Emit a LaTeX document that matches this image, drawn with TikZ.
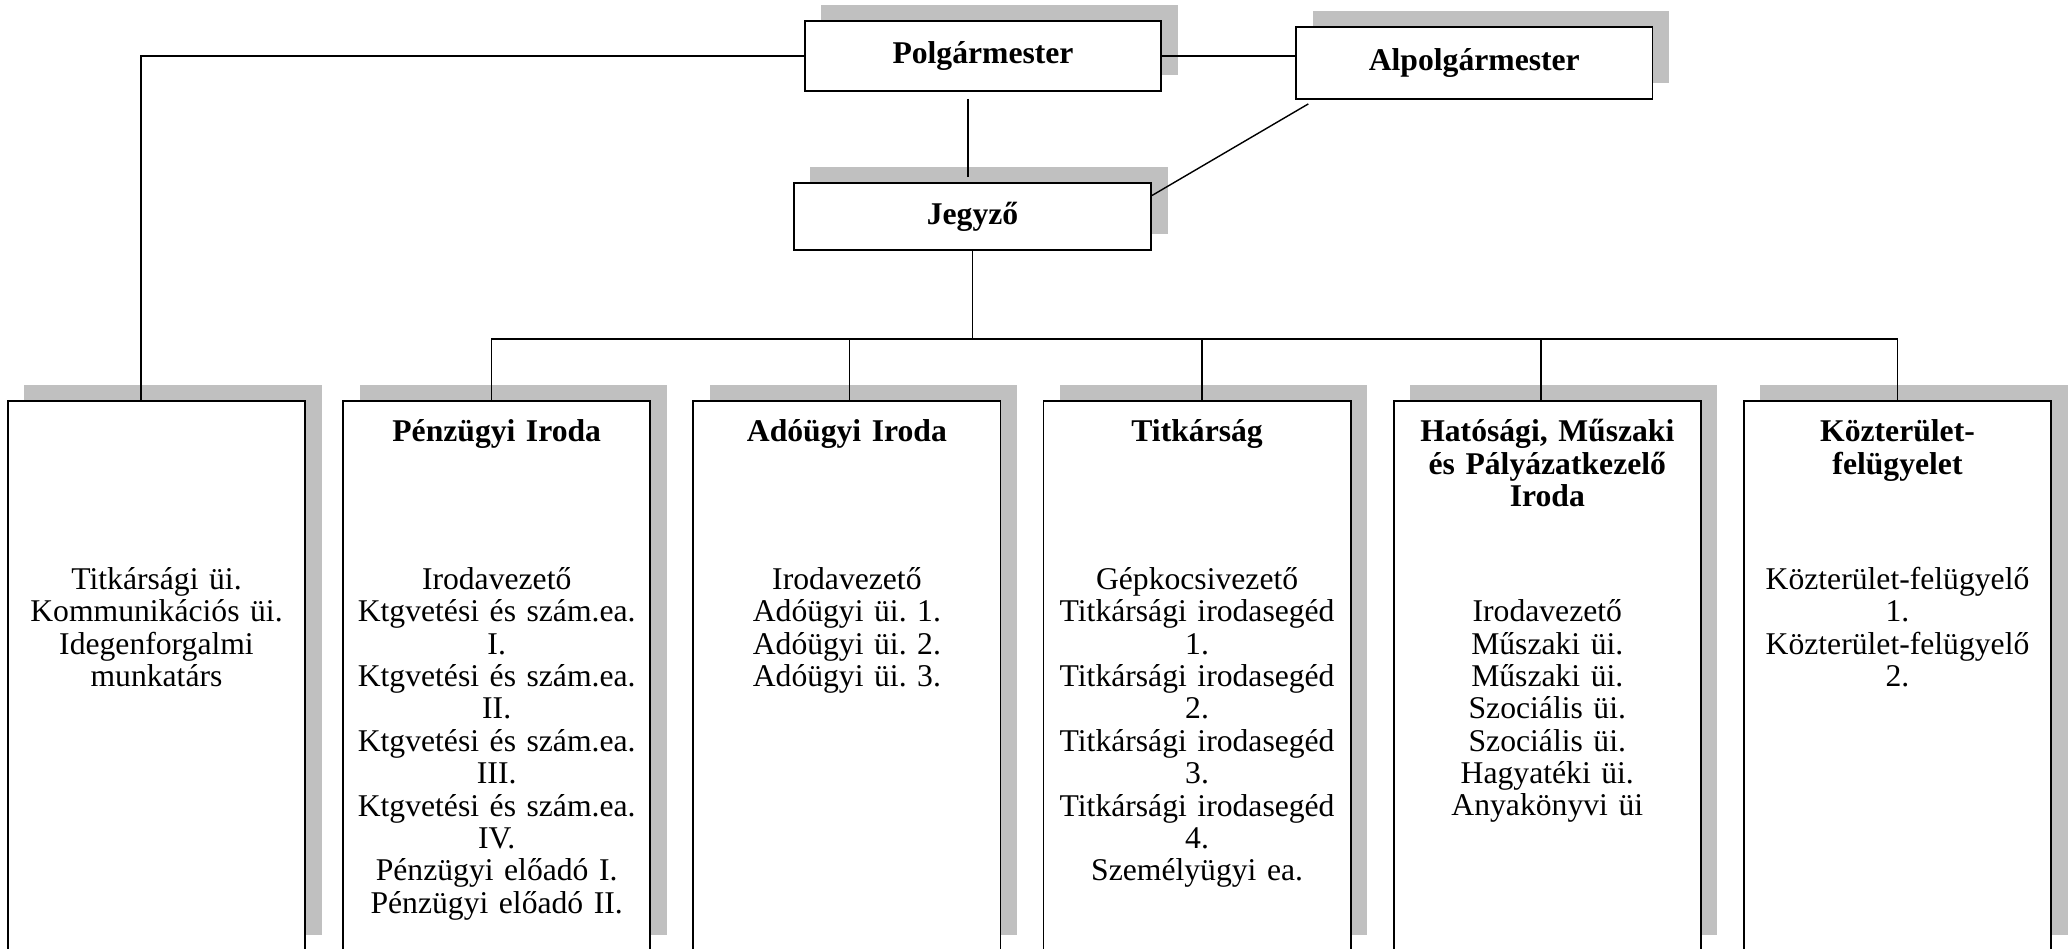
\documentclass[tikz,border=0pt]{standalone}
\usepackage{fontspec}
\setmainfont{Liberation Serif}
\usetikzlibrary{shapes,shadows}
\definecolor{shadowgray}{HTML}{C0C0C0}
\frenchspacing

\begin{document}
\begin{tikzpicture}[x=0.01cm, y=-0.01cm, node distance=3.5cm]
	%define block styles
	\tikzset{
		boxshadow/.style={general shadow={fill=shadowgray, shadow xshift=0.165cm, shadow yshift=0.16cm}},
		leader/.style={rectangle, minimum width=3.56cm, minimum height=0.7cm, draw=black, line width=0.5pt, fill=white, boxshadow, font=\fontsize{9pt}{9.2pt}\selectfont\bfseries},
		office/.style={rectangle, minimum width=3.07cm, minimum height=5.5cm, draw=black, line width=0.5pt, fill=white, boxshadow},
		heading/.style={anchor=base, text width=3cm, align=center, font=\fontsize{9pt}{9.2pt}\selectfont\bfseries},
		staff/.style={anchor=base, text width=3cm, align=center, font=\fontsize{9pt}{9.2pt}\selectfont},
		link/.style={line width=0.4pt},
	}
	\useasboundingbox (0,0) rectangle (2069,948);

	%define nodes
	\node[leader] (pm) at (983,56) {Polgármester};
	\node[leader, right of=pm, xshift=1.41cm, yshift=-0.07cm, minimum height=0.72cm] (alp) {Alpolgármester};
	\node[leader, minimum width=3.57cm, minimum height=0.67cm] (jegyzo) at (972.5,216.5) {Jegyző};

	\node[office, minimum width=2.97cm] (kabinet) at (156.5,676) {};
	\node[office, right of=kabinet, xshift=-0.1cm] (penz) {};
	\node[office, right of=penz] (ado) {};
	\node[office, right of=ado] (titk) {};
	\node[office, right of=titk] (hatosag) {};
	\node[office, right of=hatosag] (kozter) {};

	%define texts
	\node[staff] (kabinettext) at ([yshift=-1.895cm]kabinet.north) {Titkársági üi.\\Kommunikációs üi.\\Idegenforgalmi\\munkatárs};
	\node[heading] (penzhead) at ([yshift=-0.42cm]penz.north) {Pénzügyi Iroda};
	\node[staff] (penztext) at ([yshift=-1.895cm]penz.north) {Irodavezető\\Ktgvetési és szám.ea.\\I.\\Ktgvetési és szám.ea.\\II.\\Ktgvetési és szám.ea.\\III.\\Ktgvetési és szám.ea.\\IV.\\Pénzügyi előadó I.\\Pénzügyi előadó II.};
	\node[heading] (adohead) at ([yshift=-0.42cm]ado.north) {Adóügyi Iroda};
	\node[staff] (adotext) at ([yshift=-1.895cm]ado.north) {Irodavezető\\Adóügyi üi. 1.\\Adóügyi üi. 2.\\Adóügyi üi. 3.};
	\node[heading] (titkhead) at ([yshift=-0.42cm]titk.north) {Titkárság};
	\node[staff] (titktext) at ([yshift=-1.895cm]titk.north) {Gépkocsivezető\\Titkársági irodasegéd\\1.\\Titkársági irodasegéd\\2.\\Titkársági irodasegéd\\3.\\Titkársági irodasegéd\\4.\\Személyügyi ea.};
	\node[heading] (hatosaghead) at ([yshift=-0.42cm]hatosag.north) {Hatósági, Műszaki\\és Pályázatkezelő\\Iroda};
	\node[staff] (hatosagtext) at ([yshift=-2.217cm]hatosag.north) {Irodavezető\\Műszaki üi.\\Műszaki üi.\\Szociális üi.\\Szociális üi.\\Hagyatéki üi.\\Anyakönyvi üi};
	\node[heading] (kozterhead) at ([yshift=-0.42cm]kozter.north) {Közterület-\\felügyelet};
	\node[staff] (koztertext) at ([yshift=-1.895cm]kozter.north) {Közterület-felügyelő\\1.\\Közterület-felügyelő\\2.};

	%define lines
	\draw[link] (pm.west) -| ([xshift=-0.155cm]kabinet.north);
	\draw[link] (pm.east) -- (pm.east -| alp.west);
	\draw[link, shorten <=0.07cm, shorten >=0.05cm] ([xshift=-0.15cm]pm.south) -- ([xshift=-0.15cm]pm.south |- jegyzo.north);
	\draw[link] ([yshift=0.21cm]jegyzo.east) -- ([xshift=0.13cm, yshift=-0.04cm]alp.south west);
	\coordinate (bus) at (973,339);
	\draw[link] (jegyzo.south) -- (jegyzo.south |- bus);
	\draw[link] ([xshift=-0.05cm]penz.north) |- (bus) -| (kozter.north);
	\draw[link] ([xshift=0.025cm]ado.north) -- ([xshift=0.025cm]ado.north |- bus);
	\draw[link] ([xshift=0.05cm]titk.north) -- ([xshift=0.05cm]titk.north |- bus);
	\draw[link] ([xshift=-0.065cm]hatosag.north) -- ([xshift=-0.065cm]hatosag.north |- bus);
\end{tikzpicture}
\end{document}
